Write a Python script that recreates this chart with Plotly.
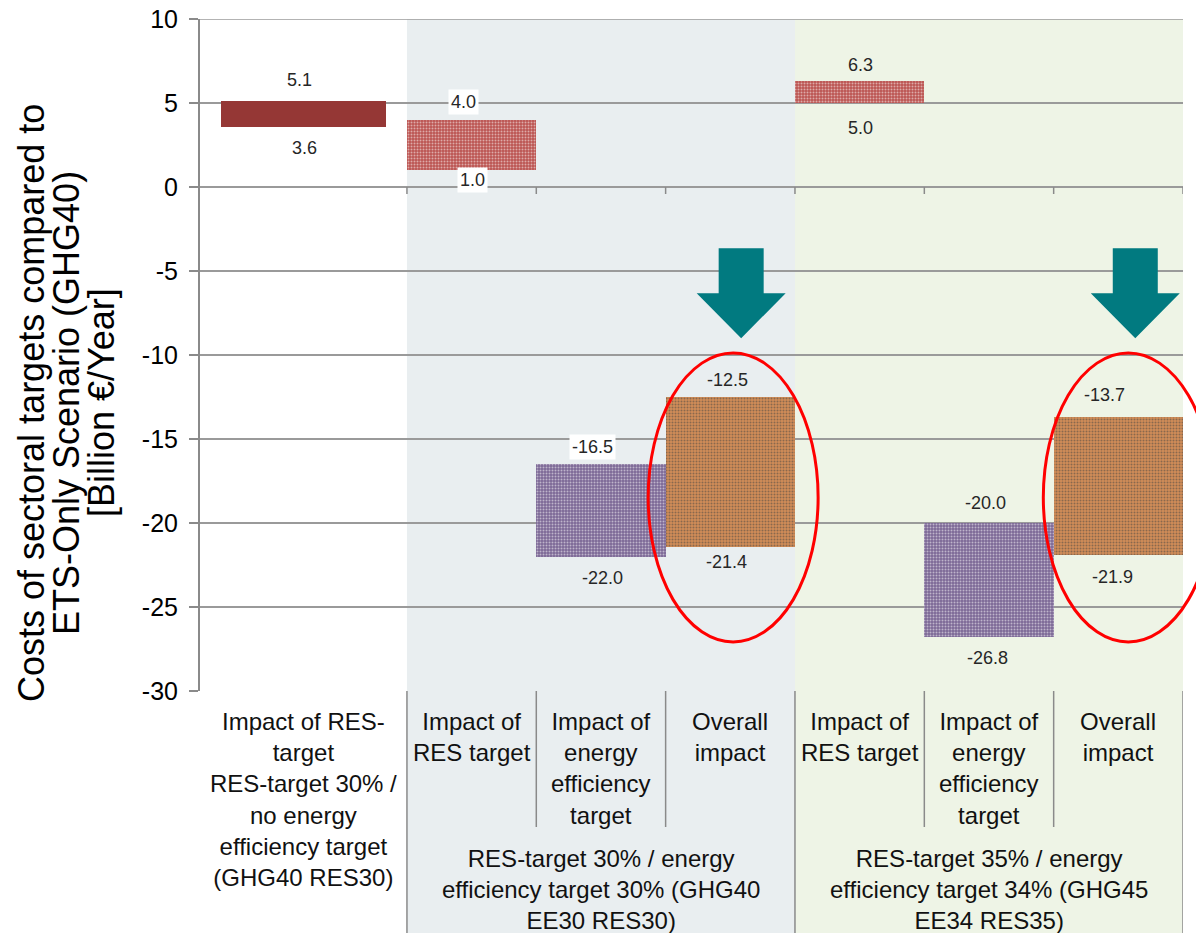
import plotly.graph_objects as go

# ---------------- data ----------------
categories = [
    "Impact of RES-<br>target<br>RES-target 30% /<br>no energy<br>efficiency target<br>(GHG40 RES30)",
    "Impact of<br>RES target",
    "Impact of<br>energy<br>efficiency<br>target",
    "Overall<br>impact",
    "Impact of<br>RES target",
    "Impact of<br>energy<br>efficiency<br>target",
    "Overall<br>impact",
]
groups = [
    "RES-target 30% / energy<br>efficiency target 30% (GHG40<br>EE30 RES30)",
    "RES-target 35% / energy<br>efficiency target 34% (GHG45<br>EE34 RES35)",
]
bar_low = [3.6, 1.0, -22.0, -21.4, 5.0, -26.8, -21.9]
bar_high = [5.1, 4.0, -16.5, -12.5, 6.3, -20.0, -13.7]
y_ticks = [10, 5, 0, -5, -10, -15, -20, -25, -30]
y_title_lines = ["Costs of sectoral targets compared to",
                 "ETS-Only Scenario (GHG40)",
                 "[Billion €/Year]"]

# ---------------- layout helpers ----------------
col_widths = [1.6, 1, 1, 1, 1, 1, 1]
col_edges = [0]
for w in col_widths:
    col_edges.append(col_edges[-1] + w)
col_centers = [(col_edges[i] + col_edges[i + 1]) / 2 for i in range(len(col_widths))]
bar_widths = [1.27, 1, 1, 1, 1, 1, 1]
x_max = col_edges[-1]
y_min, y_max = min(y_ticks), max(y_ticks)

bar_colors = ["#953735", "#bb5451", "#7c6896", "#d18d57", "#bb5451", "#7c6896", "#d18d57"]
bar_pattern = ["", ".", ".", ".", ".", ".", "."]
hi_shift = [21, 18, 17, 17, 16, 20, 22]
lo_shift = [21, 10, 21, 15, 25, 21, 22]
hi_xshift = [-4, -8, -8, -3, 1, -3, -14]
lo_xshift = [1, 1, 2, -4, 1, -1, -6]
label_box = [(False, False), (True, True), (True, False), (False, False),
             (False, False), (False, False), (False, False)]

FONT = "Liberation Sans, Arial"
GRID = "#9a9a9a"
# plot area at x 200-1183, y 19-691 of the window (body margin removed below)
PW, PH = 1196, 933
ML, MR, MT, MB = 200, 13, 19, 242
plot_w = PW - ML - MR
plot_h = PH - MT - MB

fig = go.Figure()
fig.add_trace(go.Bar(
    x=col_centers,
    y=[h - l for h, l in zip(bar_high, bar_low)],
    base=bar_low,
    width=bar_widths,
    marker=dict(color=bar_colors, line=dict(width=0),
                pattern=dict(shape=bar_pattern, fgcolor="rgba(255,255,255,0.18)",
                             size=3, solidity=0.35, fillmode="overlay")),
    hoverinfo="skip",
    showlegend=False,
))

bottom_paper = -MB / plot_h

shapes = []
# background shading for the two scenario groups
shade_colors = ["#e9eef0", "#eef4e6"]
for gi, (a, b) in enumerate([(1, 4), (4, 7)]):
    shapes.append(dict(type="rect", xref="x", yref="paper",
                       x0=col_edges[a], x1=col_edges[b], y0=bottom_paper, y1=1,
                       fillcolor=shade_colors[gi], line=dict(width=0), layer="below"))
# top gridline (range edge)
shapes.append(dict(type="line", xref="paper", yref="y", x0=0, x1=1, y0=y_max, y1=y_max,
                   line=dict(color=GRID, width=1.5), layer="below"))
# category table lines
for i in [1, 4, 7]:
    shapes.append(dict(type="line", xref="x", yref="paper",
                       x0=col_edges[i], x1=col_edges[i], y0=0, y1=bottom_paper,
                       line=dict(color="#8a8a8a", width=1.5)))
for i in [2, 3, 5, 6]:
    shapes.append(dict(type="line", xref="x", yref="paper",
                       x0=col_edges[i], x1=col_edges[i], y0=0, y1=-136 / plot_h,
                       line=dict(color="#8a8a8a", width=1.5)))
# small category ticks on the zero line
for i in range(1, 8):
    shapes.append(dict(type="line", xref="x", yref="y", ysizemode="pixel", yanchor=0,
                       x0=col_edges[i], x1=col_edges[i], y0=0, y1=-7,
                       line=dict(color="#8a8a8a", width=1.5)))
# teal arrows (pixel-sized, anchored at tip)
arrow_path = "M 0,0 L -44.5,45 L -22.5,45 L -22.5,90 L 22.5,90 L 22.5,45 L 44.5,45 Z"
for ax_x in [col_centers[3] + 0.084, col_centers[6] + 0.131]:
    shapes.append(dict(type="path", xref="x", yref="y",
                       xsizemode="pixel", ysizemode="pixel",
                       xanchor=ax_x, yanchor=-9.0, path=arrow_path,
                       fillcolor="#017a80", line=dict(width=0), layer="above"))
# red ellipses (paper-referenced so they are not clipped)
for cx in [col_centers[3] + 0.022, col_centers[6] + 0.077]:
    shapes.append(dict(type="circle", xref="paper", yref="y",
                       x0=(cx - 0.657) / x_max, x1=(cx + 0.657) / x_max,
                       y0=-27.08, y1=-9.88,
                       line=dict(color="#ff0000", width=3), fillcolor="rgba(0,0,0,0)",
                       layer="above"))

annotations = []
# value labels
for i in range(len(bar_low)):
    annotations.append(dict(x=col_centers[i], y=bar_high[i], xref="x", yref="y",
                            text=f"{bar_high[i]:.1f}", showarrow=False,
                            yshift=hi_shift[i], xshift=hi_xshift[i],
                            font=dict(size=18, color="#262626", family=FONT),
                            bgcolor="white" if label_box[i][0] else None, borderpad=2))
    annotations.append(dict(x=col_centers[i], y=bar_low[i], xref="x", yref="y",
                            text=f"{bar_low[i]:.1f}", showarrow=False,
                            yshift=-lo_shift[i], xshift=lo_xshift[i],
                            font=dict(size=18, color="#262626", family=FONT),
                            bgcolor="white" if label_box[i][1] else None, borderpad=2))
# category labels
for i, c in enumerate(categories):
    annotations.append(dict(x=col_centers[i], y=0, xref="x", yref="paper",
                            yanchor="top", yshift=-15, text=c, showarrow=False,
                            font=dict(size=24, color="#111", family=FONT)))
# group labels
for gi, g in enumerate(groups):
    annotations.append(dict(x=col_centers[2 + 3 * gi], y=0, xref="x", yref="paper",
                            yanchor="top", yshift=-152, text=g, showarrow=False,
                            font=dict(size=24, color="#111", family=FONT)))
# y-axis title (three rotated lines)
for k, line in enumerate(y_title_lines):
    annotations.append(dict(x=(31 + 35 * k - 200) / plot_w, y=(691 - 403) / plot_h,
                            xref="paper", yref="paper",
                            text=line, textangle=-90, showarrow=False,
                            xanchor="center", yanchor="middle",
                            font=dict(size=36, color="#000", family=FONT)))

fig.update_layout(
    width=PW, height=PH,
    margin=dict(l=ML, r=MR, t=MT, b=MB, autoexpand=False),
    paper_bgcolor="white", plot_bgcolor="rgba(0,0,0,0)",
    bargap=0,
    shapes=shapes, annotations=annotations,
    xaxis=dict(range=[0, x_max], showticklabels=False, showgrid=False,
               zeroline=False, showline=False, fixedrange=True, automargin=False),
    yaxis=dict(range=[y_min, y_max], tickvals=y_ticks, ticktext=[str(v) for v in y_ticks],
               showgrid=True, gridcolor=GRID, gridwidth=1.5,
               zeroline=False, showline=True, linecolor="#8a8a8a", linewidth=2,
               ticks="outside", ticklen=9, tickcolor="#8a8a8a", tickwidth=2,
               ticklabelstandoff=6, ticklabeloverflow="allow", automargin=False,
               tickfont=dict(size=25, color="#000", family=FONT),
               fixedrange=True),
)

fig.write_html("out.html",
               config={"displayModeBar": False},
               post_script="document.body.style.margin='0px';document.body.style.overflow='hidden';")
